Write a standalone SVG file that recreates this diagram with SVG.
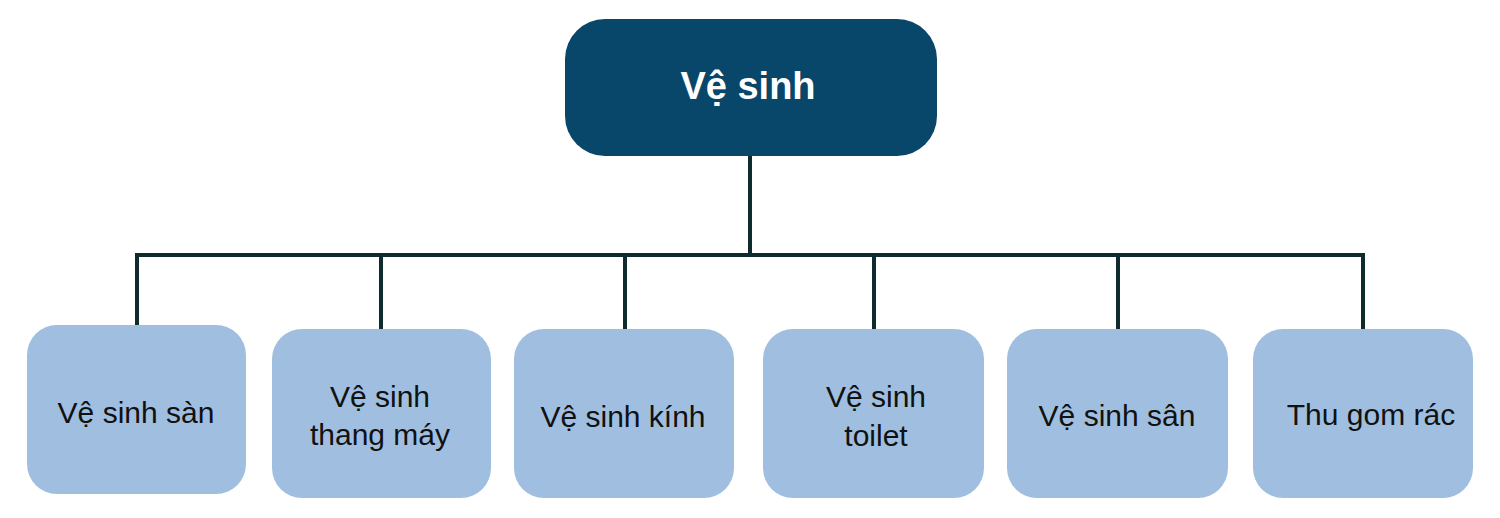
<svg xmlns="http://www.w3.org/2000/svg" width="1500" height="518" viewBox="0 0 1500 518">
<style>
.root{fill:#08466A}
.leaf{fill:#A0BFE0}
.rt{font-family:"Liberation Sans",Arial,sans-serif;font-weight:bold;font-size:38px;fill:#FFFFFF;text-anchor:middle}
.lt{font-family:"Liberation Sans",Arial,sans-serif;font-size:30px;fill:#111111;text-anchor:middle}
.con{stroke:#0F2B2E;stroke-width:4;fill:none}
</style>
<rect width="1500" height="518" fill="#FFFFFF"/>
<g id="connectors">
<path class="con" d="M750,156 V255"/>
<path class="con" d="M137,326 V255 H1363 V329"/>
<path class="con" d="M381,255 V329"/>
<path class="con" d="M625,255 V329"/>
<path class="con" d="M874,255 V329"/>
<path class="con" d="M1118,255 V329"/>
</g>
<g id="root">
<rect class="root" x="565" y="19" width="372" height="137" rx="40"/>
<text class="rt" x="748" y="99">Vệ sinh</text>
</g>
<g id="n1">
<rect class="leaf" x="27" y="325" width="219" height="169" rx="30"/>
<text class="lt" x="136" y="423">Vệ sinh sàn</text>
</g>
<g id="n2">
<rect class="leaf" x="272" y="329" width="219" height="169" rx="30"/>
<text class="lt" x="380" y="407">Vệ sinh</text>
<text class="lt" x="380" y="445">thang máy</text>
</g>
<g id="n3">
<rect class="leaf" x="514" y="329" width="220" height="169" rx="30"/>
<text class="lt" x="623" y="427">Vệ sinh kính</text>
</g>
<g id="n4">
<rect class="leaf" x="763" y="329" width="221" height="169" rx="30"/>
<text class="lt" x="876" y="407">Vệ sinh</text>
<text class="lt" x="876" y="446">toilet</text>
</g>
<g id="n5">
<rect class="leaf" x="1007" y="329" width="221" height="169" rx="30"/>
<text class="lt" x="1117" y="426">Vệ sinh sân</text>
</g>
<g id="n6">
<rect class="leaf" x="1253" y="329" width="220" height="169" rx="30"/>
<text class="lt" x="1371" y="425">Thu gom rác</text>
</g>
</svg>
